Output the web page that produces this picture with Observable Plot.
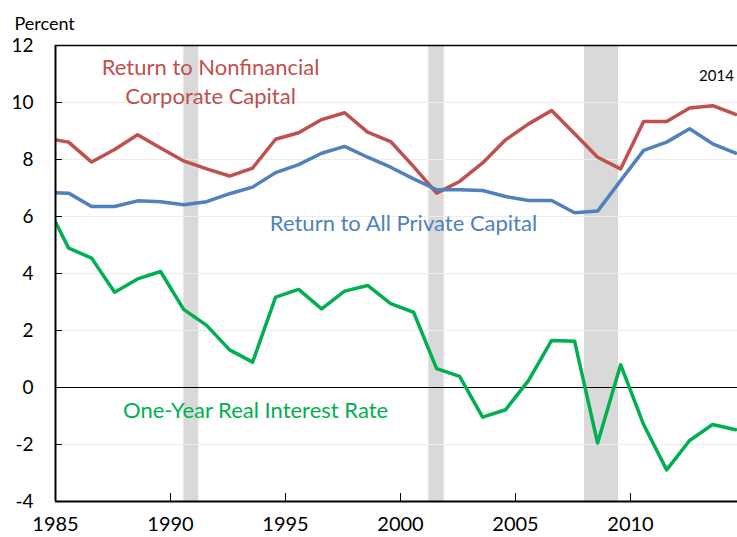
<!DOCTYPE html>
<html><head><meta charset="utf-8">
<script src="https://cdn.jsdelivr.net/npm/d3@7"></script>
<script src="https://cdn.jsdelivr.net/npm/@observablehq/plot@0.6"></script>
<style>body{margin:0;background:#fff}</style>
</head><body><div id="chart"></div>
<script>
const years = [1984,1985,1986,1987,1988,1989,1990,1991,1992,1993,1994,1995,1996,1997,1998,1999,2000,2001,2002,2003,2004,2005,2006,2007,2008,2009,2010,2011,2012,2013,2014];
const nonfinancial = [8.75,8.61,7.91,8.35,8.87,8.40,7.95,7.67,7.42,7.70,8.71,8.94,9.40,9.64,8.96,8.63,7.75,6.82,7.23,7.88,8.69,9.25,9.72,8.90,8.08,7.67,9.33,9.33,9.81,9.89,9.58];
const allPrivate = [6.84,6.82,6.35,6.35,6.55,6.52,6.41,6.52,6.80,7.03,7.54,7.82,8.22,8.46,8.08,7.73,7.32,6.94,6.94,6.91,6.70,6.56,6.56,6.13,6.19,7.26,8.32,8.61,9.08,8.55,8.22];
const realRate = [6.49,4.89,4.54,3.34,3.81,4.07,2.74,2.18,1.32,0.89,3.17,3.44,2.76,3.38,3.58,2.94,2.64,0.66,0.39,-1.04,-0.78,0.25,1.65,1.62,-1.95,0.80,-1.30,-2.89,-1.86,-1.30,-1.48];
const recessionStart = [1990.58, 2001.23, 2008.0];
const recessionEnd = [1991.23, 2001.9, 2009.48];
const yTicks = [-4,-2,0,2,4,6,8,10,12];
const gridLines = [-2,2,4,6,8,10];
const xTicks = [1985,1990,1995,2000,2005,2010];
const lastYearLabel = "2014";

const midYear = 0.57;
const toRows = vals => years.map((yr, i) => ({x: yr + midYear, v: vals[i]}));
const recessions = recessionStart.map((s, i) => ({start: s, end: recessionEnd[i]}));
const tickShape = {draw(ctx, l) { ctx.moveTo(0, 0); ctx.lineTo(0, -l); }};

const RED = "#C0504D", BLUE = "#4F81BD", GREEN = "#00B050";

const chart = Plot.plot({
  width: 737, height: 537,
  marginLeft: 55, marginRight: 0, marginTop: 45, marginBottom: 36,
  style: {fontFamily: "Lato, sans-serif", fontSize: "20px", background: "#fff", color: "#000"},
  x: {domain: [1985, 2014.652]},
  y: {domain: [-4, 12]},
  marks: [
    Plot.rect(recessions, {x1: "start", x2: "end", fill: "#d9d9d9"}),
    Plot.ruleY(gridLines, {stroke: "#ececec", strokeWidth: 1}),
    Plot.ruleY([0], {stroke: "#000", strokeWidth: 1}),
    Plot.line(toRows(nonfinancial), {x: "x", y: "v", stroke: RED, strokeWidth: 3.5, clip: true}),
    Plot.line(toRows(allPrivate), {x: "x", y: "v", stroke: BLUE, strokeWidth: 3.5, clip: true}),
    Plot.line(toRows(realRate), {x: "x", y: "v", stroke: GREEN, strokeWidth: 3.5, clip: true}),
    Plot.ruleY([12], {stroke: "#000", strokeWidth: 1.5}),
    Plot.ruleY([-4], {stroke: "#000", strokeWidth: 2}),
    Plot.ruleX([1985], {stroke: "#000", strokeWidth: 2}),
    Plot.axisY({ticks: yTicks, tickSize: 0, tickPadding: 22, tickFormat: d => String(d), fontSize: 19, label: null}),
    Plot.axisX({ticks: xTicks, tickSize: 0, tickPadding: 15, tickFormat: d => String(d), fontSize: 20, label: null}),
    Plot.vector(yTicks, {y: d => d, frameAnchor: "left", length: 6, rotate: 90, anchor: "start", shape: tickShape, stroke: "#000", strokeWidth: 1}),
    Plot.vector(xTicks.slice(1), {x: d => d, frameAnchor: "bottom", length: 8, rotate: 0, anchor: "start", shape: tickShape, stroke: "#000", strokeWidth: 1}),
    Plot.text(["Percent"], {text: d => d, frameAnchor: "top-left", dx: -41, dy: -28, textAnchor: "start", fontSize: 18}),
    Plot.text(["Return to Nonfinancial"], {text: d => d, x: 1991.74, y: 11.21, fill: RED, fontSize: 22}),
    Plot.text(["Corporate Capital"], {text: d => d, x: 1991.74, y: 10.19, fill: RED, fontSize: 22}),
    Plot.text(["Return to All Private Capital"], {text: d => d, x: 2000.13, y: 5.73, fill: BLUE, fontSize: 22}),
    Plot.text(["One-Year Real Interest Rate"], {text: d => d, x: 1993.7, y: -0.83, fill: GREEN, fontSize: 22}),
    Plot.text([lastYearLabel], {text: d => d, x: 2013.74, y: 10.94, fill: "#000", fontSize: 15})
  ]
});
document.getElementById("chart").appendChild(chart);
</script>
</body></html>
